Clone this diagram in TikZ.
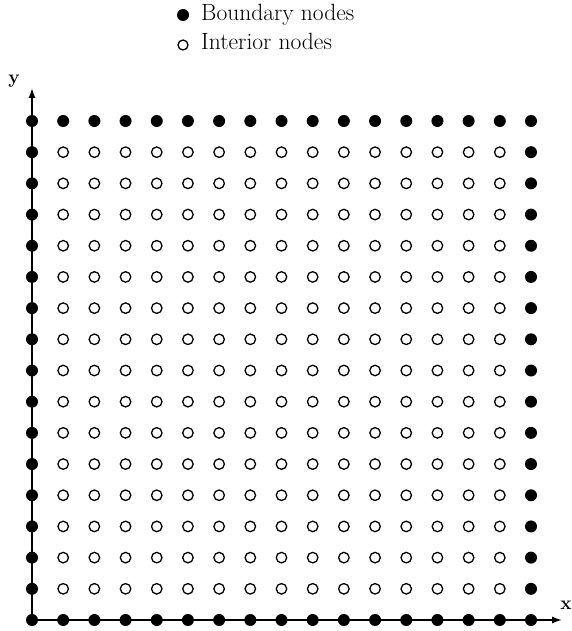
\documentclass[tikz,border=0pt]{standalone}
\usetikzlibrary{arrows.meta}
\begin{document}
\begin{tikzpicture}[x=1pt,y=-1pt,
 bnode/.style={circle,fill=black,inner sep=0pt,minimum size=12pt},
 inode/.style={circle,draw=black,line width=1.3pt,fill=white,inner sep=0pt,minimum size=10.5pt},
 axis/.style={line width=1.4pt,-{Latex[length=10pt,width=7pt]}},
 lbl/.style={font=\fontsize{23.5}{27}\selectfont, anchor=base west, inner sep=0pt},
 axlbl/.style={font=\fontsize{19}{22}\selectfont\bfseries, inner sep=0pt}]
\useasboundingbox (0,0) rectangle (571,631);
\coordinate (O) at (32,620);
\coordinate (xend) at (562,620);
\coordinate (yend) at (32,88);
\draw[axis] (O) -- (xend);
\draw[axis] (O) -- (yend);
\node[axlbl] (xl) at (566,605) {x};
\node[axlbl] (yl) at (14,81) {y};
% interior nodes
\foreach \i in {1,...,15}{
  \foreach \j in {1,...,15}{
    \node[inode] (p-\i-\j) at ({32+31.1875*\i},{620-31.1875*\j}) {};
  }
}
% boundary nodes
\foreach \i in {0,...,16}{
  \node[bnode] (p-\i-0) at ({32+31.1875*\i},620) {};
  \node[bnode] (p-\i-16) at ({32+31.1875*\i},{620-31.1875*16}) {};
}
\foreach \j in {1,...,15}{
  \node[bnode] (p-0-\j) at (32,{620-31.1875*\j}) {};
  \node[bnode] (p-16-\j) at ({32+31.1875*16},{620-31.1875*\j}) {};
}
% legend
\node[bnode] (lb) at (183,15) {};
\node[lbl] (lbt) at (201,21) {Boundary nodes};
\node[inode, minimum size=10pt] (li) at (183,45) {};
\node[lbl] (lit) at (201,50) {Interior nodes};
\end{tikzpicture}
\end{document}
